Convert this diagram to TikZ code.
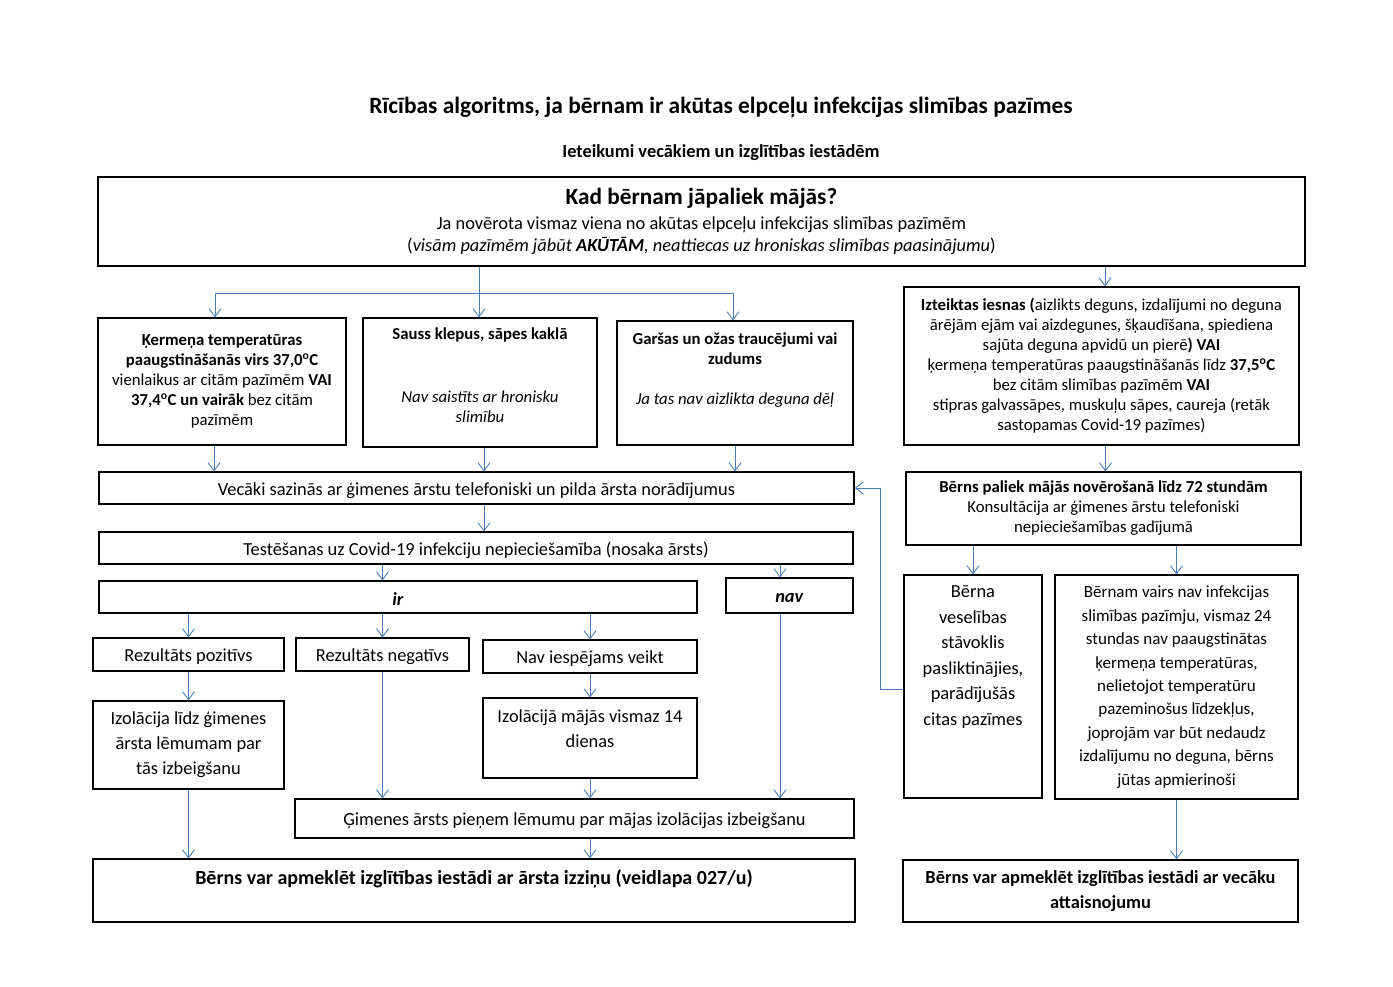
\documentclass[tikz,border=0pt]{standalone}
\usepackage{fontspec}
\setmainfont{Carlito}
\usetikzlibrary{arrows.meta,positioning}
\definecolor{linkblue}{HTML}{4A7EBB}

\tikzset{
  box/.style={draw, line width=1.1pt, inner sep=0pt, align=center,
    font=\fontsize{18.4}{20}\selectfont},
  midtext/.style={label={[inner sep=0pt, yshift=-2.5pt,
    font=\fontsize{18.4}{20}\selectfont]center:{#1}}},
  small/.style={font=\fontsize{16.75}{20}\selectfont},
  toptext/.style={anchor=north, inner sep=0pt, align=center,
    font=\fontsize{16.75}{20}\selectfont},
  arr/.style={color=linkblue, line width=0.9pt,
    -{Straight Barb[length=8pt,width=12pt]}},
  link/.style={draw=linkblue, line width=0.9pt},
}

\begin{document}
\begin{tikzpicture}[x=1pt,y=-1pt]
\useasboundingbox (0,0) rectangle (1393,987);

% titles
\node[font=\fontsize{23.4}{26}\selectfont\bfseries] (virsraksts) at (721,107)
  {Rīcības algoritms, ja bērnam ir akūtas elpceļu infekcijas slimības pazīmes};
\node[font=\fontsize{18.4}{20}\selectfont\bfseries] (ieteikumi) at (721,153)
  {Ieteikumi vecākiem un izglītības iestādēm};

% top box
\node[box, font=\fontsize{18.4}{22}\selectfont, minimum width=1207pt, minimum height=89pt] (kad) at (701.5,221.5)
  {{\fontsize{23.3}{24}\selectfont\bfseries Kad bērnam jāpaliek mājās?}\\[3pt]
   Ja novērota vismaz viena no akūtas elpceļu infekcijas slimības pazīmēm\\
   (\textit{visām pazīmēm jābūt \textbf{AKŪTĀM}, neattiecas uz hroniskas slimības paasinājumu})};

% symptoms
\node[box, small, minimum width=248pt, minimum height=127pt] (temp) at (222,381.5)
  {\textbf{Ķermeņa temperatūras}\\
   \textbf{paaugstināšanās virs 37,0\textsuperscript{o}C}\\
   vienlaikus ar citām pazīmēm \textbf{VAI}\\
   \textbf{37,4\textsuperscript{o}C un vairāk} bez citām\\
   pazīmēm};
\node[box, minimum width=234pt, minimum height=129pt,
  label={[toptext, yshift=-10pt]north:{\textbf{Sauss klepus, sāpes kaklā}\\[43pt]
   \textit{Nav saistīts ar hronisku}\\ \textit{slimību}}}] (klepus) at (480,382.5) {};
\node[box, minimum width=236pt, minimum height=124pt,
  label={[toptext, yshift=-12pt]north:{\textbf{Garšas un ožas traucējumi vai}\\
   \textbf{zudums}\\[20pt]
   \textit{Ja tas nav aizlikta deguna dēļ}}}] (garsa) at (735,383) {};
\node[box, small, minimum width=395pt, minimum height=158pt] (iesnas) at (1101.5,366)
  {\textbf{Izteiktas iesnas (}aizlikts deguns, izdalījumi no deguna\\
   ārējām ejām vai aizdegunes, šķaudīšana, spiediena\\
   sajūta deguna apvidū un pierē\textbf{) VAI}\\
   ķermeņa temperatūras paaugstināšanās līdz \textbf{37,5\textsuperscript{o}C}\\
   bez citām slimības pazīmēm \textbf{VAI}\\
   stipras galvassāpes, muskuļu sāpes, caureja (retāk\\
   sastopamas Covid-19 pazīmes)};

% doctor and tests
\node[box, minimum width=755pt, minimum height=32pt,
  midtext={Vecāki sazinās ar ģimenes ārstu telefoniski un pilda ārsta norādījumus}] (vecaki) at (476.5,488) {};
\node[box, small, minimum width=395pt, minimum height=73pt] (novero) at (1103.5,508.5)
  {\textbf{Bērns paliek mājās novērošanā līdz 72 stundām}\\
   Konsultācija ar ģimenes ārstu telefoniski\\
   nepieciešamības gadījumā};
\node[box, minimum width=754pt, minimum height=32pt,
  midtext={Testēšanas uz Covid-19 infekciju nepieciešamība (nosaka ārsts)}] (tests) at (476,548) {};
\node[box, minimum width=598pt, minimum height=32pt,
  midtext={\textbf{\textit{ir}}}] (ir) at (398,597) {};
\node[box, minimum width=127pt, minimum height=35pt,
  midtext={\textbf{\textit{nav}}}] (nav) at (789.5,595.5) {};
\node[box, minimum width=191pt, minimum height=33pt,
  midtext={Rezultāts pozitīvs}] (poz) at (188.5,654.5) {};
\node[box, minimum width=173pt, minimum height=33pt,
  midtext={Rezultāts negatīvs}] (neg) at (382.5,654.5) {};
\node[box, minimum width=214pt, minimum height=33pt,
  midtext={Nav iespējams veikt}] (neveikt) at (590,656.5) {};
\node[box, font=\fontsize{18.4}{25}\selectfont, minimum width=191pt, minimum height=88pt] (izolpoz) at (188.5,745)
  {Izolācija līdz ģimenes\\ ārsta lēmumam par\\ tās izbeigšanu};
\node[box, minimum width=214pt, minimum height=80pt,
  label={[toptext, font=\fontsize{18.4}{25}\selectfont, yshift=-12pt]north:{Izolācijā mājās vismaz 14\\ dienas}}] (izol14) at (590,738) {};
\node[box, minimum width=559pt, minimum height=39pt,
  midtext={Ģimenes ārsts pieņem lēmumu par mājas izolācijas izbeigšanu}] (lemums) at (574.5,818.5) {};
\node[box, minimum width=762pt, minimum height=63pt,
  label={[toptext, font=\fontsize{20}{21}\selectfont\bfseries, yshift=-11pt]north:{Bērns var apmeklēt izglītības iestādi ar ārsta izziņu (veidlapa 027/u)}}] (izzina) at (474,890.5) {};

% observation at home
\node[box, minimum width=138pt, minimum height=223pt,
  label={[toptext, font=\fontsize{18.4}{25.6}\selectfont, yshift=-11pt]north:{Bērna\\ veselības\\ stāvoklis\\ pasliktinājies,\\ parādījušās\\ citas pazīmes}}] (sliktak) at (973,686.5) {};
\node[box, font=\fontsize{17}{23.4}\selectfont, minimum width=243pt, minimum height=224pt] (vesels) at (1176.5,687)
  {Bērnam vairs nav infekcijas\\ slimības pazīmju, vismaz 24\\ stundas nav paaugstinātas\\
   ķermeņa temperatūras,\\ nelietojot temperatūru\\ pazeminošus līdzekļus,\\
   joprojām var būt nedaudz\\ izdalījumu no deguna, bērns\\ jūtas apmierinoši};
\node[box, font=\fontsize{18.4}{25}\selectfont\bfseries, minimum width=395pt, minimum height=62pt] (attaisn) at (1100.5,891)
  {Bērns var apmeklēt izglītības iestādi ar vecāku\\ attaisnojumu};

% connectors
\coordinate (fork) at (479,293);
\coordinate (fA) at (215,293);
\coordinate (fC) at (733,293);
\coordinate (navx) at (780,0);
\coordinate (fb) at (880,689);

\draw[link] (kad.south -| fork) -- (fork);
\draw[link] (fA) -- (fC);
\path[arr]
  (fA) edge (fA |- temp.north)
  (fork) edge (fork |- klepus.north)
  (fC) edge (fC |- garsa.north)
  ([xshift=3.5pt]kad.south -| iesnas) edge ([xshift=3.5pt]iesnas.north)
  ([xshift=-8pt]temp.south) edge ([xshift=-8pt]temp.south |- vecaki.north)
  ([xshift=4pt]klepus.south) edge ([xshift=4pt]klepus.south |- vecaki.north)
  (garsa.south) edge (garsa.south |- vecaki.north)
  ([xshift=4pt]iesnas.south) edge ([xshift=4pt]iesnas.south |- novero.north)
  (vecaki.south -| 484,0) edge (tests.north -| 484,0)
  (tests.south -| neg) edge (ir.north -| neg)
  (tests.south -| navx) edge (nav.north -| navx)
  (ir.south -| poz) edge (poz)
  (ir.south -| neg) edge (neg)
  (ir.south -| neveikt) edge (neveikt)
  (poz) edge (izolpoz)
  (neveikt) edge (izol14)
  (neg.south) edge (neg.south |- lemums.north)
  (izol14.south) edge (izol14.south |- lemums.north)
  (nav.south -| navx) edge (lemums.north -| navx)
  (izolpoz.south) edge (izolpoz.south |- izzina.north)
  (lemums.south -| izol14) edge (izzina.north -| izol14)
  (novero.south -| sliktak) edge (sliktak)
  (novero.south -| vesels) edge (vesels)
  (vesels.south) edge (vesels.south |- attaisn.north);
\draw[arr] (sliktak.west |- fb) -- (fb) |- (vecaki.east);

\end{tikzpicture}
\end{document}
